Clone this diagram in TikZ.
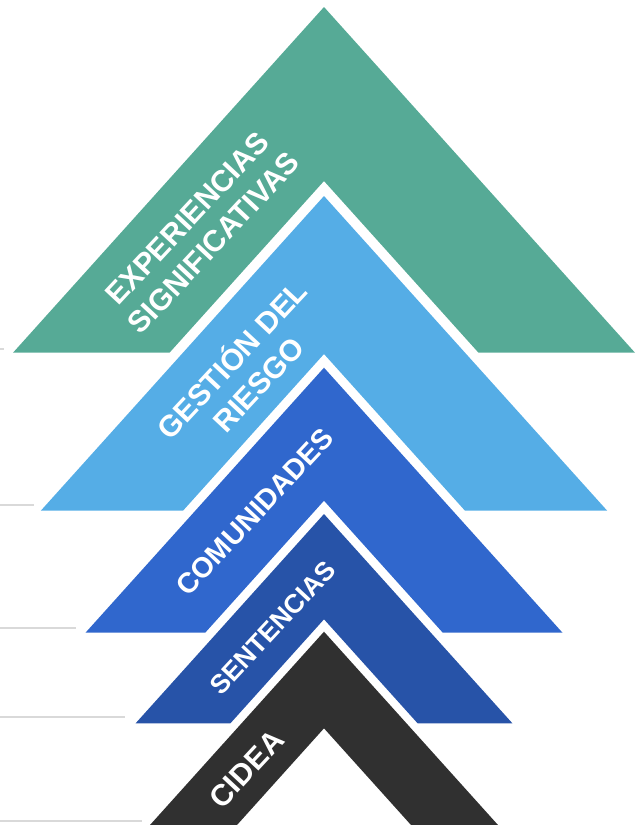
\documentclass[tikz,border=0pt]{standalone}
\usepackage{fontspec}
\setmainfont{Liberation Sans}
\usepackage{xcolor}

\definecolor{expgreen}{HTML}{56AA96}
\definecolor{gestblue}{HTML}{55ADE6}
\definecolor{comublue}{HTML}{3067CD}
\definecolor{sentblue}{HTML}{2753A8}
\definecolor{cideagray}{HTML}{303030}
\definecolor{tickgray}{HTML}{D9D9D9}

\begin{document}
\begin{tikzpicture}[x=1pt, y=-1pt,
    band/.style={draw=none},
    lbl/.style={text=white, font=\fontsize{30}{36}\selectfont\bfseries, align=center, rotate=47, inner sep=0pt},
    tick/.style={draw=tickgray, line width=2.5pt}]
    \useasboundingbox (0, 0) rectangle (641, 825);
    \clip (0, 0) rectangle (641, 825);

    % guide ticks on the left
    \draw[tick] (0, 349) -- (4, 349);
    \draw[tick] (0, 505) -- (34, 505);
    \draw[tick] (0, 628) -- (76, 628);
    \draw[tick] (0, 717) -- (125, 717);
    \draw[tick] (0, 821) -- (142, 821);

    % chevrons, top to bottom
    \fill[band, expgreen] (13, 352.7) -- (324, 7) -- (635, 352.7)
        -- (478.5, 352.7) -- (324, 181) -- (169.5, 352.7) -- cycle;
    \fill[band, gestblue] (40.8, 510.7) -- (324, 196) -- (607.2, 510.7)
        -- (465, 510.7) -- (324, 354) -- (183, 510.7) -- cycle;
    \fill[band, comublue] (85.5, 632.7) -- (324, 367.7) -- (562.5, 632.7)
        -- (442.8, 632.7) -- (324, 500.7) -- (205.2, 632.7) -- cycle;
    \fill[band, sentblue] (135.6, 723.3) -- (324, 514) -- (512.4, 723.3)
        -- (417.6, 723.3) -- (324, 619.3) -- (230.4, 723.3) -- cycle;
    \fill[band, cideagray] (136.5, 840) -- (324, 631.7) -- (511.5, 840)
        -- (424.5, 840) -- (324, 728.3) -- (223.5, 840) -- cycle;

    % labels
    \node[lbl] (exp) at (200.5, 230.5) {EXPERIENCIAS\\SIGNIFICATIVAS};
    \node[lbl] (gest) at (243.5, 370.5) {GESTIÓN DEL\\RIESGO};
    \node[lbl, font=\fontsize{28.5}{34}\selectfont\bfseries] (comu) at (255, 512) {COMUNIDADES};
    \node[lbl, font=\fontsize{26.5}{32}\selectfont\bfseries] (sent) at (273, 627.5) {SENTENCIAS};
    \node[lbl] (cidea) at (246.5, 769) {CIDEA};
\end{tikzpicture}
\end{document}
